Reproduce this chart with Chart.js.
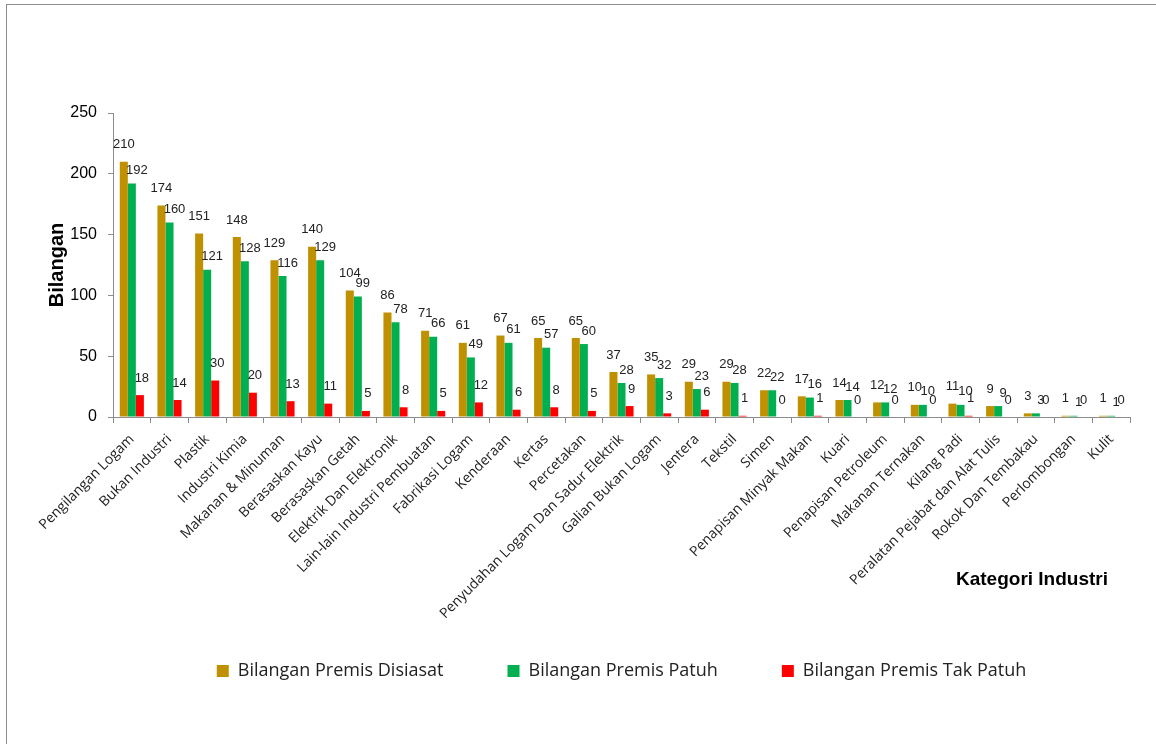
<!DOCTYPE html>
<html>
<head>
<meta charset="utf-8">
<script src="https://cdn.jsdelivr.net/npm/chart.js@4.4.1/dist/chart.umd.min.js"></script>
<style>
  html, body { margin: 0; padding: 0; background: #fff; }
  #wrap { position: relative; width: 1156px; height: 744px; }
  #bingkai { position: absolute; left: 6px; top: 4px; right: -2px; bottom: -2px; border-left: 1px solid #8c8c8c; border-top: 1px solid #8c8c8c; }
  canvas { position: absolute; left: 0; top: 0; }
</style>
</head>
<body>
<div id="wrap">
  <div id="bingkai"></div>
  <canvas id="carta" width="1156" height="744"></canvas>
</div>
<script>
// Data carta
const kategori = ["Pengilangan Logam","Bukan Industri","Plastik","Industri Kimia","Makanan & Minuman","Berasaskan Kayu","Berasaskan Getah","Elektrik Dan Elektronik","Lain-lain Industri Pembuatan","Fabrikasi Logam","Kenderaan","Kertas","Percetakan","Penyudahan Logam Dan Sadur Elektrik","Galian Bukan Logam","Jentera","Tekstil","Simen","Penapisan Minyak Makan","Kuari","Penapisan Petroleum","Makanan Ternakan","Kilang Padi","Peralatan Pejabat dan Alat Tulis","Rokok Dan Tembakau","Perlombongan","Kulit"];
const disiasat = [210,174,151,148,129,140,104,86,71,61,67,65,65,37,35,29,29,22,17,14,12,10,11,9,3,1,1];
const patuh    = [192,160,121,128,116,129,99,78,66,49,61,57,60,28,32,23,28,22,16,14,12,10,10,9,3,1,1];
const takPatuh = [18,14,30,20,13,11,5,8,5,12,6,8,5,9,3,6,1,0,1,0,0,0,1,0,0,0,0];
const tickY = [0,50,100,150,200,250];

const fontNarrow = "'Liberation Sans Narrow','Arial Narrow','Liberation Sans',sans-serif";
const fontLabel = "'Open Sans','Noto Sans',sans-serif";

// label nilai atas bar
const labelNilai = {
  id: "labelNilai",
  afterDatasetsDraw(chart) {
    const ctx = chart.ctx;
    const geserX = [0, 5, 2];
    const geserY = [17, 13, 17];
    ctx.save();
    ctx.font = "13px " + fontNarrow;
    ctx.fillStyle = "#222";
    ctx.textAlign = "center";
    ctx.textBaseline = "middle";
    chart.data.datasets.forEach((ds, i) => {
      chart.getDatasetMeta(i).data.forEach((bar, j) => {
        ctx.fillText(ds.data[j], bar.x + geserX[i], bar.y - geserY[i]);
      });
    });
    ctx.restore();
  }
};

// tajuk paksi x (Kategori Industri) + jangan potong label paksi x
const tajukX = {
  id: "tajukX",
  beforeDraw(chart) {
    chart.scales.x._computeLabelArea = () => undefined;
  },
  afterDraw(chart) {
    const ctx = chart.ctx;
    ctx.save();
    ctx.font = "bold 19px " + fontNarrow;
    ctx.fillStyle = "#000";
    ctx.textAlign = "right";
    ctx.textBaseline = "middle";
    ctx.fillText("Kategori Industri", 1108, 580);
    ctx.restore();
  }
};

new Chart(document.getElementById("carta"), {
  type: "bar",
  data: {
    labels: kategori,
    datasets: [
      { label: "Bilangan Premis Disiasat", data: disiasat, backgroundColor: "#BF9000" },
      { label: "Bilangan Premis Patuh", data: patuh, backgroundColor: "#00B050" },
      { label: "Bilangan Premis Tak Patuh", data: takPatuh, backgroundColor: "#FF0000" }
    ]
  },
  options: {
    responsive: false,
    animation: false,
    layout: { padding: { top: 113, right: 26, bottom: 54, left: 0 } },
    datasets: { bar: { barPercentage: 1, categoryPercentage: 0.64 } },
    plugins: {
      tooltip: { enabled: false },
      legend: {
        position: "bottom",
        fullSize: false,
        maxHeight: 100,
        labels: {
          boxWidth: 12, boxHeight: 12, padding: 64,
          color: "#222",
          font: { family: fontLabel, size: 18 }
        }
      }
    },
    scales: {
      x: {
        afterFit(s) { s.height = 181; },
        grid: { display: true, drawOnChartArea: false, tickLength: 6, color: "#8c8c8c" },
        border: { color: "#8c8c8c" },
        ticks: {
          autoSkip: false, minRotation: 45, maxRotation: 45, padding: 8,
          color: "#222",
          font: { family: fontLabel, size: 14 }
        }
      },
      y: {
        min: 0, max: 250,
        afterFit(s) { s.width = 113; },
        afterBuildTicks(s) { s.ticks = tickY.map(v => ({ value: v })); },
        grid: { display: true, drawOnChartArea: false, tickLength: 5, color: "#8c8c8c" },
        border: { color: "#8c8c8c" },
        ticks: { padding: 11, color: "#000", font: { family: fontNarrow, size: 16 } },
        title: {
          display: true, text: "Bilangan", color: "#000",
          padding: { top: 45, bottom: 0 },
          font: { family: fontNarrow, size: 20, weight: "bold" }
        }
      }
    }
  },
  plugins: [labelNilai, tajukX]
});
</script>
</body>
</html>
